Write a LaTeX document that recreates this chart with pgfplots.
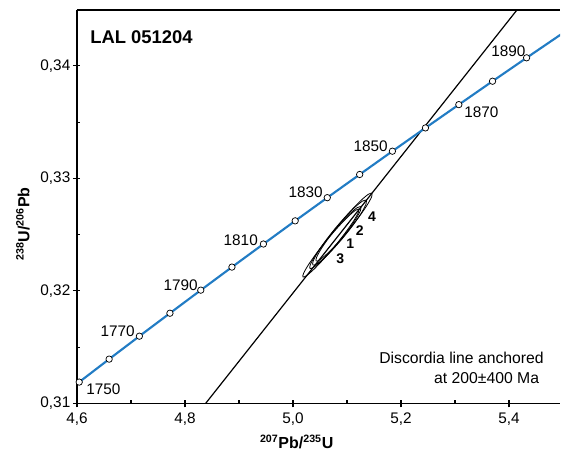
\documentclass[border=0pt]{standalone}
\usepackage{fontspec}
\setmainfont{Liberation Sans}
\usepackage{pgfplots}
\pgfplotsset{compat=1.18}
\definecolor{concblue}{RGB}{34,124,196}
\begin{document}
\begin{tikzpicture}
\begin{axis}[
  name=ax,
  scale only axis, width=362.25pt, height=295pt,
  xmin=4.6, xmax=5.4944, ymin=0.31, ymax=0.34496,
  axis x line*=bottom, axis y line*=left,
  axis line style={line width=0.8pt},
  xtick={4.6,4.8,5.0,5.2,5.4}, ytick={0.31,0.32,0.33,0.34},
  minor x tick num=1, minor y tick num=1,
  tick align=inside, major tick length=5.25pt, minor tick length=2.4pt,
  every major x tick/.append style={yshift=-3pt},
  every major y tick/.append style={xshift=-3pt},
  tick style={line width=0.8pt, black},
  scaled x ticks=false, scaled y ticks=false,
  xticklabel style={/pgf/number format/fixed, /pgf/number format/fixed zerofill, /pgf/number format/precision=1, /pgf/number format/use comma, /pgf/number format/assume math mode=true, yshift=-3.5pt},
  yticklabel style={/pgf/number format/fixed, /pgf/number format/fixed zerofill, /pgf/number format/precision=2, /pgf/number format/use comma, /pgf/number format/assume math mode=true, xshift=-1.5pt},
  ticklabel style={font=\fontsize{11.5}{13}\selectfont},
  xlabel={\textbf{\textsuperscript{207}Pb/\textsuperscript{235}U}},
  ylabel={\textbf{\textsuperscript{238}U/\textsuperscript{206}Pb}},
  xlabel style={at={(axis description cs:0.4549,-0.0971)}, anchor=center, font=\fontsize{12}{14}\selectfont},
  ylabel style={at={(axis description cs:-0.1118,0.4559)}, anchor=center, font=\fontsize{12}{14}\selectfont},
  clip=true,
  extra description/.code={
    \draw[line width=0.8pt] (0,1) -- (1,1);
    \node[anchor=base west, font=\fontsize{13.8}{15}\selectfont\bfseries, inner sep=0pt] at (0.0269,0.9153) {LAL 051204};
    \node[anchor=base east, font=\fontsize{11.8}{13}\selectfont, inner sep=0pt] at (0.9669,0.1017) {Discordia line anchored};
    \node[anchor=base east, font=\fontsize{11.8}{13}\selectfont, inner sep=0pt] at (0.9571,0.0509) {at 200±400 Ma};
  },
]
% discordia line
\addplot[black, line width=0.9pt] coordinates {(4.80,0.307677) (5.45,0.347105)};
% error ellipses
\addplot[black, line width=0.6pt, smooth] coordinates {(5.12195,0.327270) (5.12075,0.326933) (5.11185,0.326185) (5.09660,0.325145) (5.07734,0.323966) (5.05698,0.322832) (5.03864,0.321913) (5.02509,0.321350) (5.01842,0.321228) (5.01962,0.321566) (5.02852,0.322313) (5.04377,0.323354) (5.06303,0.324532) (5.08339,0.325666) (5.10173,0.326585) (5.11528,0.327148) (5.12195,0.327270)};
\addplot[black, line width=0.6pt, smooth] coordinates {(5.12558,0.327484) (5.12501,0.327157) (5.11736,0.326460) (5.10380,0.325502) (5.08639,0.324427) (5.06778,0.323400) (5.05081,0.322576) (5.03805,0.322082) (5.03146,0.321992) (5.03203,0.322319) (5.03968,0.323016) (5.05324,0.323974) (5.07065,0.325049) (5.08926,0.326076) (5.10623,0.326900) (5.11899,0.327394) (5.12558,0.327484)};
\addplot[black, line width=0.6pt, smooth] coordinates {(5.13571,0.328066) (5.13523,0.327717) (5.12731,0.326981) (5.11313,0.325973) (5.09488,0.324843) (5.07531,0.323766) (5.05743,0.322903) (5.04393,0.322388) (5.03688,0.322298) (5.03736,0.322647) (5.04528,0.323383) (5.05946,0.324391) (5.07771,0.325521) (5.09728,0.326598) (5.11516,0.327461) (5.12867,0.327976) (5.13571,0.328066)};
\addplot[black, line width=0.6pt, smooth] coordinates {(5.14640,0.328692) (5.14547,0.328344) (5.13680,0.327588) (5.12171,0.326540) (5.10250,0.325360) (5.08209,0.324228) (5.06359,0.323315) (5.04981,0.322762) (5.04286,0.322650) (5.04379,0.322998) (5.05246,0.323755) (5.06755,0.324802) (5.08676,0.325982) (5.10718,0.327114) (5.12567,0.328027) (5.13945,0.328581) (5.14640,0.328692)};
% concordia
\addplot[concblue, line width=1.6pt, mark=*, mark size=2.4pt, mark options={fill=white, draw=black, line width=0.55pt, solid}] coordinates {
(4.60405,0.31189) (4.65951,0.31393) (4.71552,0.31597) (4.77209,0.31801) (4.82922,0.32006) (4.88691,0.32211) (4.94517,0.32416) (5.00401,0.32622) (5.06343,0.32828) (5.12344,0.33034) (5.18405,0.33241) (5.24525,0.33448) (5.30706,0.33655) (5.36948,0.33863) (5.43252,0.34071) (5.49618,0.34279)};
% age labels
\begin{scope}[every node/.style={font=\fontsize{11.5}{13}\selectfont, inner sep=0pt}]
\node[anchor=base west, xshift=5.1pt, yshift=-9pt] at (axis cs:4.60405,0.31189) {1750};
\node[anchor=base east, xshift=-3.3pt, yshift=-0.45pt] at (axis cs:4.71552,0.31597) {1770};
\node[anchor=base east, xshift=-2.1pt] at (axis cs:4.82922,0.32006) {1790};
\node[anchor=base east, xshift=-4pt, yshift=-0.75pt] at (axis cs:4.94517,0.32416) {1810};
\node[anchor=base east, xshift=-3.2pt, yshift=0.5pt] at (axis cs:5.06343,0.32828) {1830};
\node[anchor=base east, xshift=-3.3pt, yshift=-0.6pt] at (axis cs:5.18405,0.33241) {1850};
\node[anchor=base west, xshift=3.9pt, yshift=-9.3pt] at (axis cs:5.30706,0.33655) {1870};
\node[anchor=base east, xshift=-0.7pt, yshift=0.8pt] at (axis cs:5.43252,0.34071) {1890};
\end{scope}
% ellipse numbers
\begin{scope}[every node/.style={font=\fontsize{10.5}{12}\selectfont\bfseries, inner sep=0pt}]
\node at (axis cs:5.1463,0.326587) {4};
\node at (axis cs:5.12352,0.325316) {2};
\node at (axis cs:5.10611,0.324187) {1};
\node at (axis cs:5.0876,0.322889) {3};
\end{scope}
\end{axis}
\pgfresetboundingbox
\path[use as bounding box] ([xshift=-57.75pt,yshift=-35pt]ax.south west) rectangle ([xshift=0.75pt,yshift=7.5pt]ax.north east);
\end{tikzpicture}
\end{document}
